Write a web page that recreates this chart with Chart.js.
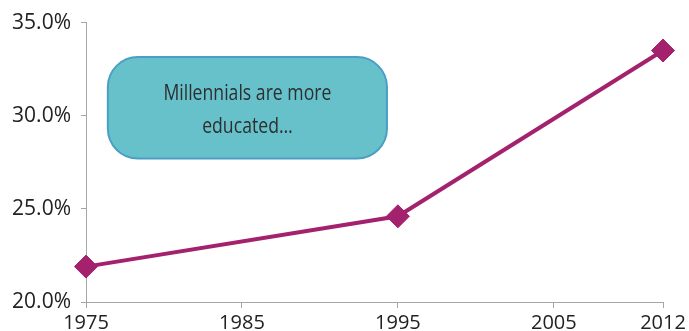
<!DOCTYPE html>
<html>
<head>
<meta charset="utf-8">
<script src="https://cdn.jsdelivr.net/npm/chart.js@4"></script>
<style>
  html, body { margin: 0; padding: 0; background: #fff; }
  #wrap { width: 689px; height: 331px; }
</style>
</head>
<body>
<div id="wrap"><canvas id="eduChart" width="689" height="331"></canvas></div>
<script>
// share with a bachelor's degree, by year
const years = [1975, 1995, 2012];
const shares = [21.9, 24.6, 33.5];
const xTicks = [1975, 1985, 1995, 2005, 2012];
const yTicks = [20, 25, 30, 35];
const calloutLines = ['Millennials are more', 'educated…'];

const lineColor = '#A4216D';
const axisColor = '#A6A6A6';
const fontFamily = "'Open Sans', 'DejaVu Sans', sans-serif";

// rounded callout box drawn behind the line
const callout = {
  id: 'callout',
  beforeDatasetsDraw(chart) {
    const { ctx, scales: { x, y } } = chart;
    const left = x.getPixelForValue(1976.4);
    const right = x.getPixelForValue(1994.3);
    const top = y.getPixelForValue(33.15);
    const bottom = y.getPixelForValue(27.7);
    ctx.save();
    ctx.beginPath();
    ctx.roundRect(left, top, right - left, bottom - top, 30);
    ctx.fillStyle = '#66C1CB';
    ctx.fill();
    ctx.lineWidth = 2;
    ctx.strokeStyle = '#4C9FC4';
    ctx.stroke();
    // narrow lettering: squeeze the text horizontally
    ctx.fillStyle = '#2E2E2E';
    ctx.font = '21px ' + fontFamily;
    ctx.textAlign = 'center';
    ctx.textBaseline = 'middle';
    const cx = (left + right) / 2;
    ctx.translate(cx, 0);
    ctx.scale(0.84, 1);
    ctx.fillText(calloutLines[0], 0, top + 37);
    ctx.fillText(calloutLines[1], 0, top + 70);
    ctx.restore();
  }
};

const ctx = document.getElementById('eduChart').getContext('2d');
new Chart(ctx, {
  type: 'line',
  data: {
    datasets: [{
      data: years.map((yr, i) => ({ x: yr, y: shares[i] })),
      borderColor: lineColor,
      backgroundColor: lineColor,
      borderWidth: 4,
      pointStyle: 'rectRot',
      pointRadius: 11.5,
      pointBorderWidth: 1,
      fill: false,
      tension: 0,
      clip: false
    }]
  },
  options: {
    responsive: false,
    animation: false,
    layout: { padding: { top: 21, right: 26, left: 0, bottom: -7 } },
    plugins: { legend: { display: false }, tooltip: { enabled: false } },
    scales: {
      x: {
        type: 'linear',
        min: 1975,
        max: 2012,
        afterBuildTicks: s => { s.ticks = xTicks.map(v => ({ value: v })); },
        afterFit: s => { s.paddingLeft = 0; s.paddingRight = 0; },
        ticks: { font: { family: fontFamily, size: 20 }, color: '#222', padding: 3, maxRotation: 0, callback: v => String(v) },
        grid: { drawOnChartArea: false, color: axisColor, tickLength: 6 },
        border: { color: axisColor, width: 1 }
      },
      y: {
        min: 20,
        max: 35,
        afterBuildTicks: s => { s.ticks = yTicks.map(v => ({ value: v })); },
        afterFit: s => { s.width = 86; },
        ticks: { font: { family: fontFamily, size: 21 }, color: '#222', padding: 10, callback: v => v.toFixed(1) + '%' },
        grid: { drawOnChartArea: false, color: axisColor, tickLength: 5 },
        border: { color: axisColor, width: 1 }
      }
    }
  },
  plugins: [callout]
});
</script>
</body>
</html>
